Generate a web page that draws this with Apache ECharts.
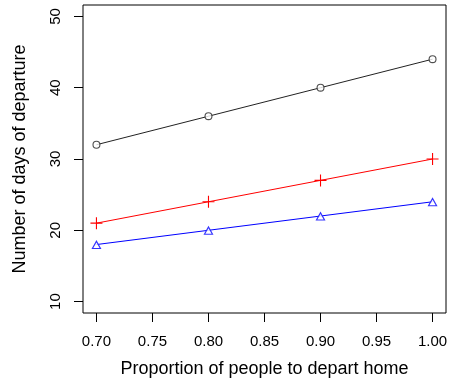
<!DOCTYPE html>
<html>
<head>
<meta charset="utf-8">
<script src="https://cdn.jsdelivr.net/npm/echarts@6/dist/echarts.min.js"></script>
<style>
html,body{margin:0;padding:0;background:#fff;}
#chart{width:452px;height:386px;}
</style>
</head>
<body>
<div id="chart"></div>
<script>
var proportions = [0.70, 0.80, 0.90, 1.00];
var seriesBlack = [32, 36, 40, 44];
var seriesRed = [21, 24, 27, 30];
var seriesBlue = [18, 20, 22, 24];
var xTicks = [0.70, 0.75, 0.80, 0.85, 0.90, 0.95, 1.00];
var yTicks = [10, 20, 30, 40, 50];
var xTitle = 'Proportion of people to depart home';
var yTitle = 'Number of days of departure';

function pairs(vals){ return proportions.map(function(p,i){ return [p, vals[i]]; }); }

var ringPath = 'path://M4,0A4,4 0 1,1 4,8A4,4 0 1,1 4,0Z M4,1.1A2.9,2.9 0 1,0 4,6.9A2.9,2.9 0 1,0 4,1.1Z';
var diskPath = 'path://M4,0A4,4 0 1,1 4,8A4,4 0 1,1 4,0Z';
var plusPath = 'path://M0,5.45H12V6.55H0Z M5.45,0H6.55V12H5.45Z';
var triPath = 'path://M5,0L10,9L0,9Z M5,2.4L1.9,7.9L8.1,7.9Z';
var triFill = 'path://M5,0L10,9L0,9Z';

var font = 'Liberation Sans, Arial, Helvetica, sans-serif';
var chart = echarts.init(document.getElementById('chart'), null, {renderer:'canvas'});
chart.setOption({
  animation:false,
  backgroundColor:'#fff',
  grid:{left:83, right:6, top:5, bottom:73, show:true, borderColor:'#000', borderWidth:1, backgroundColor:'transparent'},
  xAxis:{
    type:'value', min:0.688, max:1.012,
    name:xTitle, nameLocation:'middle', nameGap:47,
    nameTextStyle:{fontFamily:font, fontSize:18, color:'#000'},
    axisLine:{show:false},
    splitLine:{show:false},
    axisTick:{show:true, length:9, inside:false, lineStyle:{color:'#000', width:1}, customValues:xTicks},
    axisLabel:{customValues:xTicks, fontFamily:font, fontSize:15, color:'#000', margin:21,
      formatter:function(v){ return v.toFixed(2); }}
  },
  yAxis:{
    type:'value', min:8.4, max:51.6,
    name:yTitle, nameLocation:'middle', nameGap:54, nameRotate:90,
    nameTextStyle:{fontFamily:font, fontSize:18, color:'#000'},
    axisLine:{show:false},
    splitLine:{show:false},
    axisTick:{show:true, length:9, inside:false, lineStyle:{color:'#000', width:1}, customValues:yTicks},
    axisLabel:{customValues:yTicks, fontFamily:font, fontSize:15, color:'#000', margin:20, rotate:90,
      formatter:function(v){ return String(Math.round(v)); }}
  },
  series:[
    {type:'line', data:pairs(seriesBlack), symbol:'none', z:2,
      lineStyle:{color:'#222', width:1}},
    {type:'line', data:pairs(seriesRed), symbol:plusPath, symbolSize:12, z:2,
      lineStyle:{color:'#ff0000', width:1}, itemStyle:{color:'#ff0000', borderWidth:0}},
    {type:'line', data:pairs(seriesBlue), symbol:'none', z:2,
      lineStyle:{color:'#0000ff', width:1}},
    {type:'scatter', data:pairs(seriesBlack), symbol:diskPath, symbolSize:7, z:3, silent:true,
      itemStyle:{color:'#fff', borderWidth:0}},
    {type:'scatter', data:pairs(seriesBlue), symbol:triFill, symbolSize:[9,8], z:3, silent:true,
      itemStyle:{color:'#fff', borderWidth:0}},
    {type:'scatter', data:pairs(seriesBlack), symbol:ringPath, symbolSize:8, z:4,
      itemStyle:{color:'#222', borderWidth:0}},
    {type:'scatter', data:pairs(seriesBlue), symbol:triPath, symbolSize:[10,9], z:4,
      itemStyle:{color:'#0000ff', borderWidth:0}}
  ]
});
</script>
</body>
</html>
